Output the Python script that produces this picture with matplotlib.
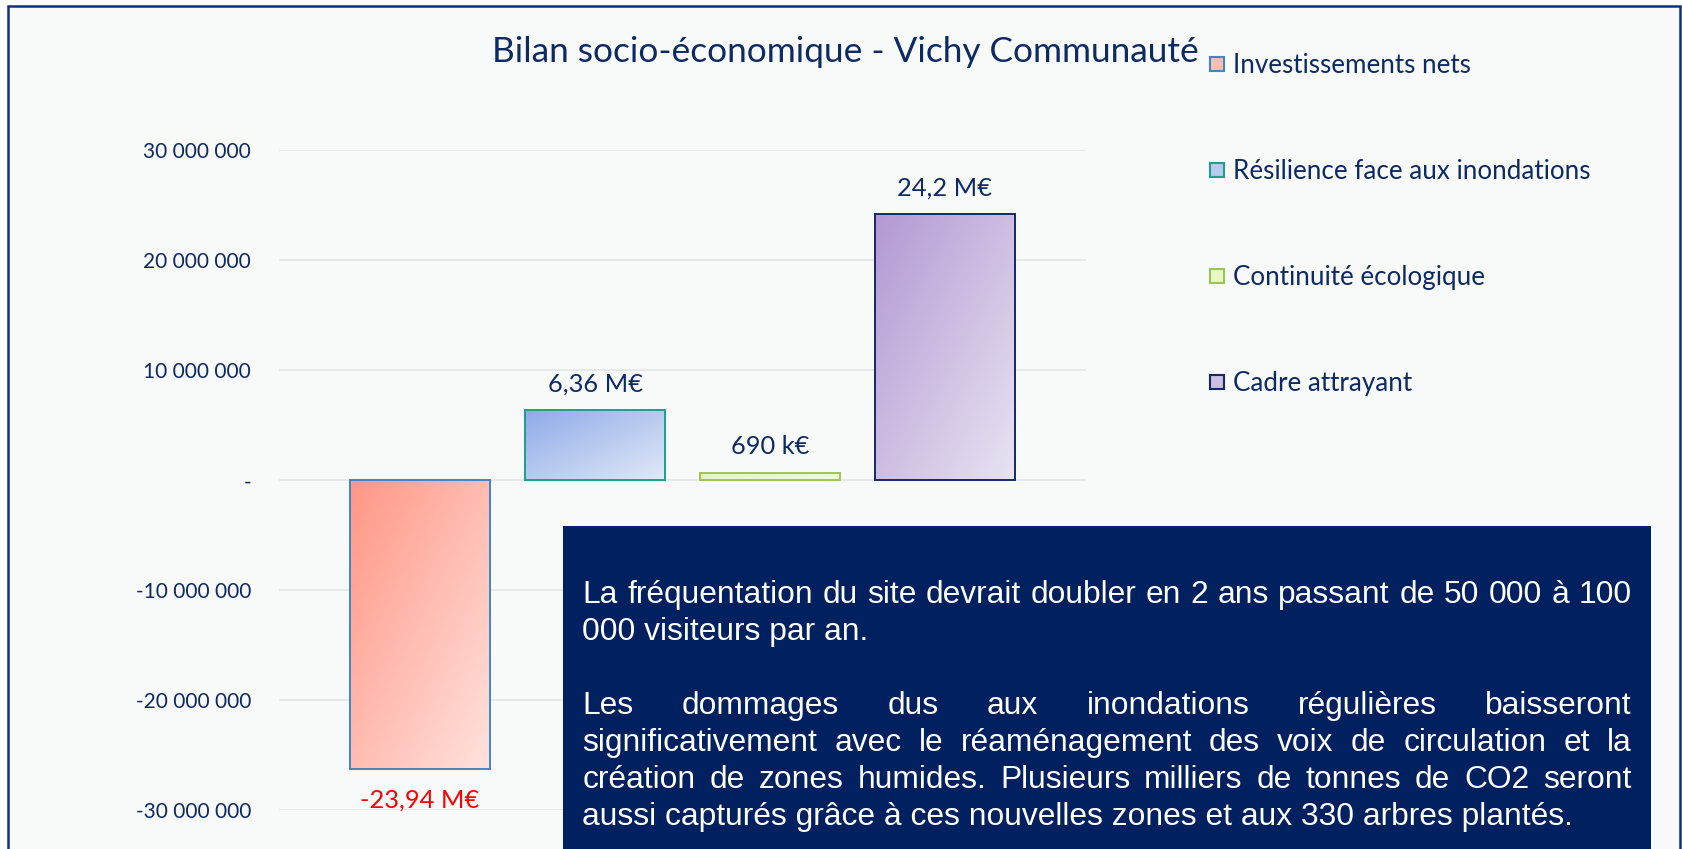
import numpy as np
import matplotlib
matplotlib.use("Agg")
from matplotlib import pyplot as plt
from matplotlib.patches import Rectangle

# data
categories = ["Investissements nets", "Résilience face aux inondations",
              "Continuité écologique", "Cadre attrayant"]
values = [-26.2e6, 6.36e6, 0.69e6, 24.2e6]
value_labels = ["-23,94 M€", "6,36 M€", "690 k€", "24,2 M€"]
y_ticks = [-30e6, -20e6, -10e6, 0, 10e6, 20e6, 30e6]
y_tick_labels = ["-30 000 000", "-20 000 000", "-10 000 000", "-",
                 "10 000 000", "20 000 000", "30 000 000"]
title = "Bilan socio-économique - Vichy Communauté"
paragraphs = [
    ["La fréquentation du site devrait doubler en 2 ans passant de 50 000 à 100",
     "000 visiteurs par an."],
    ["Les dommages dus aux inondations régulières baisseront",
     "significativement avec le réaménagement des voix de circulation et la",
     "création de zones humides. Plusieurs milliers de tonnes de CO2 seront",
     "aussi capturés grâce à ces nouvelles zones et aux 330 arbres plantés."],
]

# styles
grad_start = ["#ff9786", "#8eabe8", "#e2f5ae", "#b299d3"]
grad_end = ["#ffe2de", "#e2e9f8", "#f2fbdc", "#e9e3f2"]
edge_cols = ["#3f86c6", "#1f9e88", "#9cc653", "#13296a"]
navy = "#0d2a62"
W, H = 1682, 849


def fx(px):
    return px / W


def fy(py):
    return 1 - py / H


def mix(c1, c2, t):
    a = np.array(matplotlib.colors.to_rgb(c1))
    b = np.array(matplotlib.colors.to_rgb(c2))
    return a * (1 - t[..., None]) + b * t[..., None]


fig = plt.figure(figsize=(W / 100, H / 100), dpi=100, facecolor="white")

# chart area background and border
fig.add_artist(Rectangle((fx(7.5), fy(860)), fx(1680.5) - fx(7.5), fy(5.5) - fy(860),
                         transform=fig.transFigure, facecolor="#f8f9f9",
                         edgecolor="#13306e", lw=1.8, zorder=0))

ax = fig.add_axes([fx(279), fy(810.4), fx(1086) - fx(279), fy(150.2) - fy(810.4)])
ax.set_facecolor("none")
x = np.arange(len(values))
bw = 0.803

n = 60
rr, cc = np.mgrid[0:n, 0:n] / (n - 1)
tt = (rr + cc) / 2
for i, v in enumerate(values):
    bar = ax.bar(x[i], v, width=bw, facecolor="none", edgecolor=edge_cols[i],
                 lw=1.4, zorder=3)[0]
    img = mix(grad_start[i], grad_end[i], tt)
    im = ax.imshow(img, extent=(x[i] - bw / 2, x[i] + bw / 2, min(0, v), max(0, v)),
                   aspect="auto", origin="upper", zorder=2, interpolation="bilinear")
    im.set_clip_path(bar)
    if v >= 0:
        ax.annotate(value_labels[i], (x[i], v), xytext=(0, 13.5), textcoords="offset points",
                    ha="center", va="baseline", fontsize=18.3, family="Lato", color=navy)
    else:
        ax.annotate(value_labels[i], (x[i], v), xytext=(0, -28), textcoords="offset points",
                    ha="center", va="baseline", fontsize=18.3, family="Lato", color="#ff0000")

ax.set_xlim(-0.806, 3.806)
ax.set_ylim(-30e6, 30e6)
ax.set_yticks(y_ticks)
ax.set_yticklabels(y_tick_labels, family="Lato", fontsize=15, color=navy)
ax.set_xticks([])
ax.tick_params(axis="y", length=0, pad=20)
ax.grid(axis="y", color="#e6e8e8", lw=1.3, zorder=0)
ax.set_axisbelow(True)
for s in ax.spines.values():
    s.set_visible(False)

fig.text(fx(845), fy(62.3), title, ha="center", va="baseline", fontsize=25.4,
         family="Lato", color=navy)

# legend
for i, name in enumerate(categories):
    cy = 64.4 + i * 105.9
    fig.add_artist(Rectangle((fx(1210), fy(cy + 7)), fx(14), 14 / H,
                             transform=fig.transFigure,
                             facecolor=mix(grad_start[i], grad_end[i], np.array(0.5)),
                             edgecolor=edge_cols[i], lw=1.5))
    fig.text(fx(1233), fy(cy + 8.5), name, ha="left", va="baseline", fontsize=18.7,
             family="Lato", color=navy)

# text box
fig.add_artist(Rectangle((fx(563), fy(860)), fx(1651) - fx(563), fy(525.6) - fy(860),
                         transform=fig.transFigure, facecolor="#002060",
                         edgecolor="none", zorder=5))
renderer = fig.canvas.get_renderer()
left, right = 582.5, 1631.6
base = 603
step = 37
tkw = dict(fontsize=22.9, family="Liberation Sans", color="white", va="baseline",
           ha="left", zorder=6)
line_no = 0
for para in paragraphs:
    for j, line in enumerate(para):
        yb = base + line_no * step
        if j == len(para) - 1:
            fig.text(fx(left), fy(yb), line, **tkw)
        else:
            words = line.split()
            widths = []
            for w in words:
                t = fig.text(0, 0, w, **tkw)
                widths.append(t.get_window_extent(renderer).width)
                t.remove()
            gap = (right - left - sum(widths)) / (len(words) - 1)
            xp = left
            for w, wd in zip(words, widths):
                fig.text(fx(xp), fy(yb), w, **tkw)
                xp += wd + gap
        line_no += 1
    line_no += 1

fig.savefig("out.png", dpi=100, facecolor=fig.get_facecolor())
